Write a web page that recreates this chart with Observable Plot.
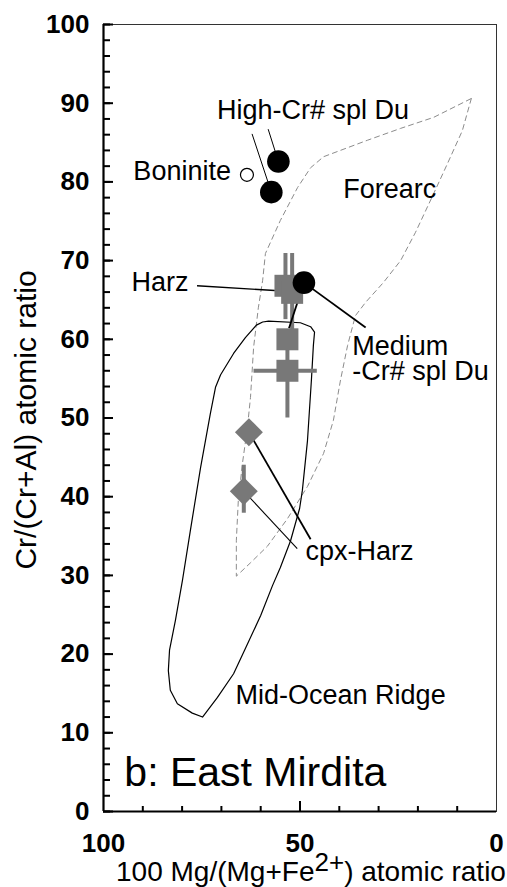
<!DOCTYPE html>
<html><head><meta charset="utf-8">
<script src="https://cdn.jsdelivr.net/npm/d3@7"></script>
<script src="https://cdn.jsdelivr.net/npm/@observablehq/plot@0.6"></script>
<style>
html,body{margin:0;padding:0;background:#fff;}
#chart svg{display:block;}
</style></head><body><div id="chart"></div>
<script>
// ---- axes ----
const xDomain = [100, 0];
const yDomain = [0, 100];
const yMinorTicks = d3.range(0, 101, 2);
const yMajorTicks = d3.range(0, 101, 10);
const xMinorTicks = d3.range(10, 100, 10);
const xMajorTicks = [50];
const xTickLabels = [100, 50, 0];
const xTitleParts = ["100 Mg/(Mg+Fe", "2+", ") atomic ratio"];
const yTitle = "Cr/(Cr+Al) atomic ratio";
const panelTitle = "b: East Mirdita";

// ---- fields (outlines) ----
const morX = [61.1, 59.5, 58.0, 49.9, 47.3, 46.3, 46.6, 47.1, 48.1, 49.4, 50.1, 52.4, 55.0, 57.0, 60.0, 63.9, 66.9, 71.0, 74.8, 77.4, 81.2, 83.0, 83.5, 83.2, 81.7, 79.9, 77.9, 75.3, 72.8, 71.5, 70.2, 66.9, 63.9];
const morY = [61.8, 62.2, 62.3, 62.1, 61.6, 60.9, 59.2, 54.8, 47.1, 40.8, 38.5, 34.4, 31.0, 28.7, 24.9, 20.7, 17.5, 14.5, 12.0, 12.5, 13.7, 15.4, 17.9, 20.5, 24.3, 29.4, 35.7, 43.7, 50.6, 53.9, 55.5, 58.2, 60.2];
const forearcX = [6.4, 8.7, 12.5, 16.0, 20.6, 24.4, 28.8, 33.3, 35.9, 37.9, 39.7, 41.5, 44.0, 48.1, 53.2, 58.3, 62.6, 66.2, 66.2, 65.7, 64.6, 63.4, 62.6, 61.8, 60.6, 59.5, 58.8, 55.0, 50.6, 47.3, 44.0, 32.8, 24.4, 16.0];
const forearcY = [90.6, 86.5, 82.3, 78.5, 73.6, 70.0, 67.2, 64.7, 63.0, 59.2, 54.8, 49.7, 45.5, 41.3, 37.2, 33.7, 31.6, 29.9, 34.4, 39.5, 44.4, 48.7, 52.6, 59.0, 64.0, 67.5, 70.9, 75.1, 79.3, 81.8, 83.2, 85.3, 86.8, 88.2];

// ---- samples ----
const boniniteX = [63.5];
const boniniteY = [80.9];
const highCrX = [55.5, 57.3];
const highCrY = [82.6, 78.7];
const mediumCrX = [49.0];
const mediumCrY = [67.2];
const harzX = [53.7, 52.0, 53.2, 53.2];
const harzY = [66.8, 65.9, 60.0, 56.0];
const harzYlo = [62.5, 60.0, null, 50.0];
const harzYhi = [70.9, 70.9, null, 60.0];
const harzXlo = [null, null, null, 61.7];
const harzXhi = [null, null, null, 45.6];
const cpxX = [63.0, 64.3];
const cpxY = [48.2, 40.7];
const cpxYlo = [null, 37.9];
const cpxYhi = [null, 44.0];

// ---- annotations ----
const labelText = ["High-Cr# spl Du", "Boninite", "Forearc", "Harz", "Medium\n-Cr# spl Du", "cpx-Harz", "Mid-Ocean Ridge"];
const labelX = [71.1, 92.4, 39.0, 92.9, 36.7, 48.6, 66.4];
const labelY = [88.0, 80.2, 78.0, 66.2, 54.8, 32.0, 13.7];
const panelX = [94.7];
const panelY = [3.3];
// leader lines
const leadX1 = [58.1, 62.2, 76.2, 49.0, 49.0, 63.0, 64.3];
const leadY1 = [86.7, 86.1, 66.8, 67.2, 67.2, 48.2, 40.7];
const leadX2 = [55.5, 57.3, 56.4, 33.3, 52.8, 47.3, 50.7];
const leadY2 = [82.6, 78.7, 66.2, 61.5, 61.4, 34.6, 33.4];
const leadW  = [1, 1, 1.4, 1.8, 1.8, 1.8, 1.1];

// build tables
const zip = (xs, ys) => xs.map((x, i) => ({x, y: ys[i]}));
const mor = zip(morX, morY);
const forearc = zip(forearcX, forearcY);
const harz = harzX.map((x, i) => ({x, y: harzY[i], ylo: harzYlo[i], yhi: harzYhi[i], xlo: harzXlo[i], xhi: harzXhi[i]}));
const cpx = cpxX.map((x, i) => ({x, y: cpxY[i], ylo: cpxYlo[i], yhi: cpxYhi[i]}));
const leaders = leadX1.map((x1, i) => ({x1, y1: leadY1[i], x2: leadX2[i], y2: leadY2[i], w: leadW[i]}));
const labels = labelText.map((t, i) => ({t, x: labelX[i], y: labelY[i]}));

const gray = "#787878";
const font = "'Liberation Sans', Arial, Helvetica, sans-serif";

const W = 507, H = 887, mL = 103, mR = 11, mT = 24, mB = 76;
const frameW = W - mL - mR, frameH = H - mT - mB;
// tick lengths in pixels, converted into data units along the other axis
const pxToX = px => (xDomain[1] - xDomain[0]) * px / frameW;
const pxToY = px => (yDomain[1] - yDomain[0]) * px / frameH;
const yMinorLen = 7, yMajorLen = 10, xMinorLen = 5, xMajorLen = 10;

const yTick = (ticks, len) => Plot.ruleY(ticks, {y: d => d, x1: () => xDomain[0], x2: () => xDomain[0] + pxToX(len), stroke: "black", strokeWidth: 2});
const xTick = (ticks, len) => Plot.ruleX(ticks, {x: d => d, y1: () => yDomain[0], y2: () => yDomain[0] + pxToY(len), stroke: "black", strokeWidth: 2});

const chart = Plot.plot({
  width: W,
  height: H,
  marginLeft: mL,
  marginRight: mR,
  marginTop: mT,
  marginBottom: mB,
  x: {domain: xDomain, label: null},
  y: {domain: yDomain, label: null},
  style: {fontFamily: font, fontSize: "26px", color: "black", background: "white", overflow: "visible"},
  marks: [
    Plot.frame({stroke: "#333", strokeWidth: 1}),
    Plot.line(forearc, {x: "x", y: "y", curve: "linear-closed", stroke: "#8c8c8c", strokeWidth: 1, strokeDasharray: "5,4"}),
    Plot.line(mor, {x: "x", y: "y", curve: "linear-closed", stroke: "black", strokeWidth: 1.2}),
    // error bars
    Plot.ruleX(harz.filter(d => d.ylo != null), {x: "x", y1: "ylo", y2: "yhi", stroke: gray, strokeWidth: 4}),
    Plot.ruleY(harz.filter(d => d.xlo != null), {y: "y", x1: "xlo", x2: "xhi", stroke: gray, strokeWidth: 4}),
    Plot.ruleX(cpx.filter(d => d.ylo != null), {x: "x", y1: "ylo", y2: "yhi", stroke: gray, strokeWidth: 4}),
    // leader lines
    Plot.link(leaders, {x1: "x1", y1: "y1", x2: "x2", y2: "y2", stroke: "black", strokeWidth: d => d.w}),
    // symbols
    Plot.dot(harz, {x: "x", y: "y", symbol: "square", r: 12.4, fill: gray}),
    Plot.dot(cpx, {x: "x", y: "y", symbol: "diamond2", r: 12.6, fill: gray}),
    Plot.dot(zip(highCrX, highCrY), {x: "x", y: "y", r: 11.3, fill: "black"}),
    Plot.dot(zip(mediumCrX, mediumCrY), {x: "x", y: "y", r: 11.3, fill: "black"}),
    Plot.dot(zip(boniniteX, boniniteY), {x: "x", y: "y", r: 6.5, fill: "white", stroke: "black", strokeWidth: 1.2}),
    // inward ticks
    yTick(yMinorTicks, yMinorLen),
    yTick(yMajorTicks, yMajorLen),
    xTick(xMinorTicks, xMinorLen),
    xTick(xMajorTicks, xMajorLen),
    // axis lines
    Plot.ruleX([xDomain[0]], {strokeWidth: 2.2}),
    Plot.ruleY([yDomain[0]], {strokeWidth: 2.2}),
    // tick labels
    Plot.axisY(yMajorTicks, {tickSize: 0, tickPadding: 14, fontSize: 26, fontWeight: "bold", label: null}),
    Plot.axisX(xTickLabels, {tickSize: 0, tickPadding: 22, fontSize: 26, fontWeight: "bold", label: null}),
    // texts
    Plot.text(labels, {x: "x", y: "y", text: "t", textAnchor: "start", lineAnchor: "bottom", fontSize: 27, lineHeight: 0.95, fill: "black"}),
    Plot.text([panelTitle], {text: d => d, x: panelX, y: panelY, textAnchor: "start", lineAnchor: "bottom", fontSize: 41, fill: "black"}),
    Plot.text([xTitleParts.join("")], {text: d => d, frameAnchor: "bottom", textAnchor: "middle", dx: 11, dy: 69, lineAnchor: "bottom", fontSize: 28, fill: "black"}),
    Plot.text([yTitle], {text: d => d, frameAnchor: "left", textAnchor: "middle", rotate: -90, dx: -77, dy: 2, lineAnchor: "middle", fontSize: 30, fill: "black"})
  ]
});
document.getElementById("chart").appendChild(chart);

// superscript in x title
const ns = "http://www.w3.org/2000/svg";
const full = xTitleParts.join("");
for (const t of chart.querySelectorAll("text")) {
  if (t.textContent === full) {
    t.textContent = xTitleParts[0];
    const sup = document.createElementNS(ns, "tspan");
    sup.setAttribute("dy", "-10");
    sup.setAttribute("font-size", "26");
    sup.textContent = xTitleParts[1];
    const rest = document.createElementNS(ns, "tspan");
    rest.setAttribute("dy", "10");
    rest.textContent = xTitleParts[2];
    t.appendChild(sup);
    t.appendChild(rest);
  }
}
</script>
</body></html>
